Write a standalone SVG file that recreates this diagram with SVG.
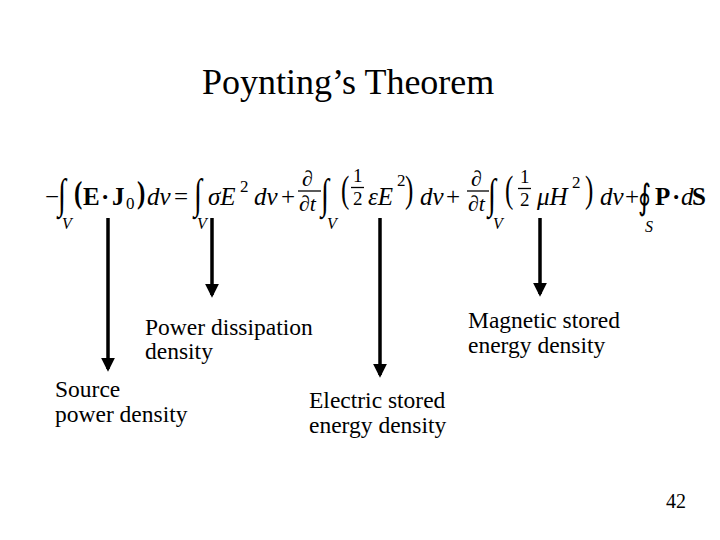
<svg xmlns="http://www.w3.org/2000/svg" width="720" height="540" viewBox="0 0 720 540">
<style>
text{font-family:"Liberation Serif","Times New Roman",serif;fill:#000}
.t{font-size:36px}
.l{font-size:23.5px}
.m{font-size:25px}
.g{font-size:29px}
.f{font-size:19px}
.d{font-size:22px}
.i{font-style:italic}
.b{font-weight:bold}
.s{font-size:16px}
.sup{font-size:17px}
.ln{stroke:#000;stroke-width:1.3}
.arr{stroke:#000;stroke-width:3.5;fill:none;marker-end:url(#ah)}
</style>
<defs>
<marker id="ah" markerWidth="4" markerHeight="4" refX="3.2" refY="2" orient="auto" markerUnits="strokeWidth">
<path d="M0,0 L4,2 L0,4 Z" fill="#000"/>
</marker>
</defs>
<rect width="720" height="540" fill="#fff"/>
<g id="title"><text class="t" x="202" y="94">Poynting’s Theorem</text></g>
<g id="equation">
<text class="m" x="45" y="205">−</text>
<text class="g" transform="translate(58 208) scale(1 1.45)">∫</text>
<text class="s i" x="62" y="229">V</text>
<text class="m b" transform="translate(74 203) scale(1 1.25)">(</text>
<text class="m b" x="83" y="205">E</text>
<text class="m b" x="101" y="205">·</text>
<text class="m b" x="112" y="205">J</text>
<text class="sup" x="126" y="209">0</text>
<text class="m b" transform="translate(137 203) scale(1 1.25)">)</text>
<text class="m i" x="147" y="205">dv</text>
<text class="m" x="174" y="205">=</text>
<text class="g" transform="translate(194 208) scale(1 1.45)">∫</text>
<text class="s i" x="197" y="229">V</text>
<text class="m i" x="208" y="205">σE</text>
<text class="sup" x="240" y="192">2</text>
<text class="m i" x="254" y="205">dv</text>
<text class="m" x="281" y="205">+</text>
<text class="d i" x="302" y="186">∂</text>
<line class="ln" x1="298" y1="191" x2="321" y2="191"/>
<text class="d i" x="299" y="211">∂t</text>
<text class="g" transform="translate(321 208) scale(1 1.45)">∫</text>
<text class="s i" x="327" y="229">V</text>
<text class="m" transform="translate(341 202) scale(1 1.5)">(</text>
<text class="f" x="353" y="182">1</text>
<line class="ln" x1="351" y1="187.5" x2="364" y2="187.5"/>
<text class="f" x="353" y="205">2</text>
<text class="m i" x="368" y="205">εE</text>
<text class="sup" x="397" y="186">2</text>
<text class="m" transform="translate(405 202) scale(1 1.5)">)</text>
<text class="m i" x="420" y="205">dv</text>
<text class="m" x="446" y="205">+</text>
<text class="d i" x="471" y="186">∂</text>
<line class="ln" x1="467" y1="191" x2="489" y2="191"/>
<text class="d i" x="468" y="211">∂t</text>
<text class="g" transform="translate(488 208) scale(1 1.45)">∫</text>
<text class="s i" x="493" y="229">V</text>
<text class="m" transform="translate(505 202) scale(1 1.5)">(</text>
<text class="f" x="520" y="183">1</text>
<line class="ln" x1="518" y1="188.5" x2="531" y2="188.5"/>
<text class="f" x="520" y="206">2</text>
<text class="m i" x="537" y="205">μH</text>
<text class="sup" x="572" y="188">2</text>
<text class="m" transform="translate(585 202) scale(1 1.5)">)</text>
<text class="m i" x="600" y="205">dv</text>
<text class="m" x="625" y="205">+</text>
<text class="m" transform="translate(638 209) scale(1 1.4)">∮</text>
<text class="s i" x="645" y="232">S</text>
<text class="m b" x="655" y="205">P</text>
<text class="m b" x="672" y="205">·</text>
<text class="m i" x="681" y="205">d</text>
<text class="m b" x="692" y="205">S</text>
</g>
<g id="connectors">
<line class="arr" x1="108" y1="218" x2="108" y2="369"/>
<line class="arr" x1="212" y1="218" x2="212" y2="295"/>
<line class="arr" x1="380" y1="218" x2="380" y2="375"/>
<line class="arr" x1="540" y1="218" x2="540" y2="294"/>
</g>
<g id="power-dissipation"><text class="l" x="145" y="335">Power dissipation</text><text class="l" x="145" y="359">density</text></g>
<g id="magnetic"><text class="l" x="468" y="328">Magnetic stored</text><text class="l" x="468" y="353">energy density</text></g>
<g id="source"><text class="l" x="55" y="397">Source</text><text class="l" x="55" y="422">power density</text></g>
<g id="electric"><text class="l" x="309" y="408">Electric stored</text><text class="l" x="309" y="433">energy density</text></g>
<g id="page"><text x="666" y="508" style="font-size:20px">42</text></g>
</svg>
